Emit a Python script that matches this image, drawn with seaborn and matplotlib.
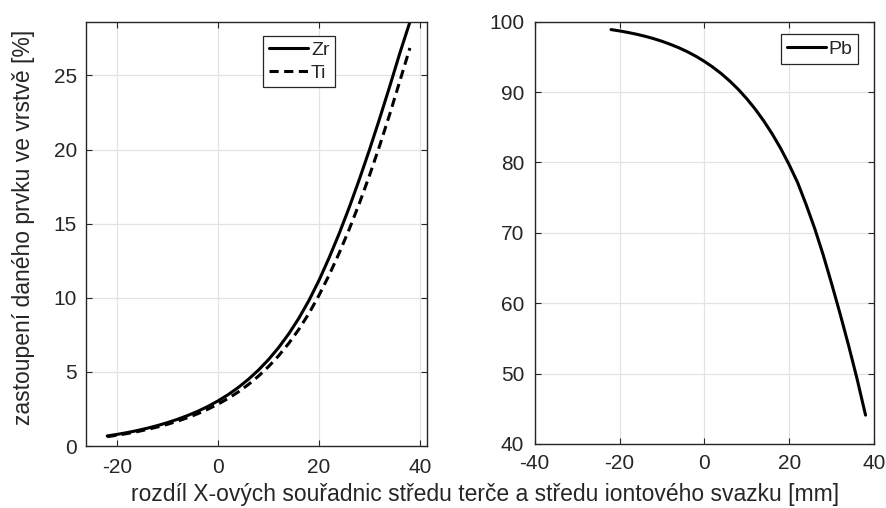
import matplotlib
matplotlib.use("Agg")
import matplotlib.pyplot as plt
import seaborn as sns
import pandas as pd

x_mm = [-22, -20, -18, -16, -14, -12, -10, -8, -6, -4, -2, 0, 2, 4, 6, 8, 10, 12, 14, 16,
        18, 20, 22, 24, 26, 28, 30, 32, 34, 36, 38]
zr = [0.679, 0.787, 0.909, 1.048, 1.206, 1.384, 1.584, 1.811, 2.065, 2.351, 2.678, 3.050,
      3.473, 3.955, 4.504, 5.129, 5.842, 6.653, 7.576, 8.628, 9.826, 11.19, 12.71, 14.35,
      16.12, 18.01, 20.00, 22.09, 24.26, 26.50, 28.60]
ti = [0.630, 0.732, 0.845, 0.975, 1.122, 1.287, 1.473, 1.684, 1.920, 2.186, 2.491, 2.830,
      3.216, 3.655, 4.154, 4.721, 5.366, 6.098, 6.931, 7.877, 8.953, 10.18, 11.54, 13.03,
      14.65, 16.39, 18.26, 20.26, 22.38, 24.61, 26.85]
pb = [98.88, 98.69, 98.47, 98.22, 97.93, 97.60, 97.22, 96.78, 96.29, 95.73, 95.09, 94.36,
      93.54, 92.61, 91.56, 90.38, 89.05, 87.57, 85.90, 84.05, 81.98, 79.67, 77.12, 74.00,
      70.64, 66.89, 62.78, 58.49, 54.00, 49.25, 44.10]

left_xticks = [-20, 0, 20, 40]
left_yticks = [0, 5, 10, 15, 20, 25]
right_xticks = [-40, -20, 0, 20, 40]
right_yticks = [40, 50, 60, 70, 80, 90, 100]

xlabel = "rozdíl X-ových souřadnic středu terče a středu iontového svazku [mm]"
ylabel = "zastoupení daného prvku ve vrstvě [%]"

sns.set_theme(style="ticks")
plt.rcParams["font.family"] = ["Liberation Sans", "DejaVu Sans"]
dark = "#262626"
plt.rcParams.update({
    "axes.unicode_minus": False,
    "axes.edgecolor": dark,
    "xtick.color": dark,
    "ytick.color": dark,
    "text.color": dark,
    "axes.labelcolor": dark,
    "xtick.direction": "in",
    "ytick.direction": "in",
    "xtick.top": True,
    "ytick.right": True,
    "xtick.major.size": 4,
    "ytick.major.size": 4,
    "xtick.major.width": 0.8,
    "ytick.major.width": 0.8,
    "axes.linewidth": 1.0,
})

df = pd.DataFrame({"x": x_mm, "Zr": zr, "Ti": ti, "Pb": pb})

fig = plt.figure(figsize=(8.86, 5.08), dpi=100)
ax1 = fig.add_axes([0.0971, 0.1220, 0.3849, 0.8346])
ax2 = fig.add_axes([0.6035, 0.1260, 0.3830, 0.8313])

lw = 2.2
sns.lineplot(data=df, x="x", y="Zr", ax=ax1, color="black", linewidth=lw, label="Zr")
sns.lineplot(data=df, x="x", y="Ti", ax=ax1, color="black", linewidth=lw,
             linestyle=(0, (3.0, 1.8)), label="Ti")
sns.lineplot(data=df, x="x", y="Pb", ax=ax2, color="black", linewidth=lw, label="Pb")

ax1.set_xlim(-26.2, 41.4)
ax1.set_ylim(0, 28.6)
ax1.set_xticks(left_xticks)
ax1.set_yticks(left_yticks)
ax2.set_xlim(-40, 40)
ax2.set_ylim(40, 100)
ax2.set_xticks(right_xticks)
ax2.set_yticks(right_yticks)

for ax in (ax1, ax2):
    ax.grid(True, color="#e3e3e3", linewidth=0.9)
    ax.set_axisbelow(True)
    ax.set_xlabel("")
    ax.set_ylabel("")
    ax.tick_params(labelsize=15)
    ax.tick_params(axis="y", pad=6.5)
    for s in ax.spines.values():
        s.set_visible(True)
        s.set_color(dark)
ax1.tick_params(axis="x", pad=8.5)
ax2.tick_params(axis="x", pad=7.0)
ax2.tick_params(axis="y", pad=7.5)

leg_kw = dict(fontsize=14, frameon=True, fancybox=False, edgecolor=dark, framealpha=1,
              handlelength=2.0, handletextpad=0.15, borderpad=0.3, labelspacing=0.25,
              borderaxespad=0)
l1 = ax1.legend(loc="upper left", bbox_to_anchor=(0.52, 0.968), **leg_kw)
l2 = ax2.legend(loc="upper left", bbox_to_anchor=(0.726, 0.970), **leg_kw)
for l in (l1, l2):
    l.get_frame().set_linewidth(0.9)

fig.text(0.547, 0.0275, xlabel, ha="center", va="center", fontsize=16.5, color=dark)
fig.text(0.027, 0.553, ylabel, ha="center", va="center", rotation=90, fontsize=16.5, color=dark)

fig.savefig("out.png", dpi=100, facecolor="white")
